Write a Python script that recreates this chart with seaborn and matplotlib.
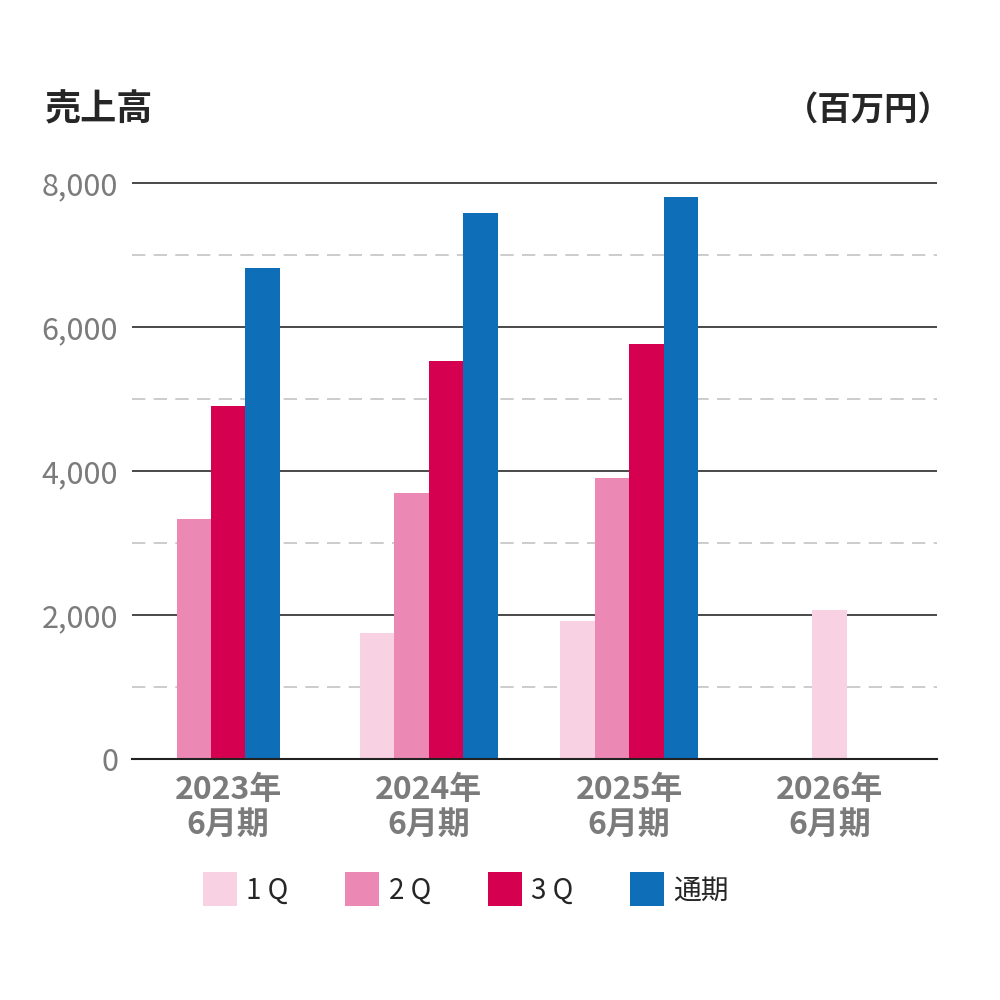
import matplotlib
matplotlib.use("Agg")
import matplotlib.pyplot as plt
from matplotlib.lines import Line2D
from matplotlib.ticker import MultipleLocator, FuncFormatter
import seaborn as sns
import pandas as pd

# データ
years = ["2023年\n6月期", "2024年\n6月期", "2025年\n6月期", "2026年\n6月期"]
quarters = ["1 Q", "2 Q", "3 Q", "通期"]
q1 = [None, 1750, 1910, 2070]
q2 = [3330, 3690, 3900, None]
q3 = [4900, 5530, 5760, None]
full = [6820, 7590, 7810, None]
colors = ["#F8D2E3", "#EC88B4", "#D5004F", "#0F6EB8"]

sns.set_theme(style="white")
plt.rcParams["font.family"] = ["Noto Sans CJK JP", "DejaVu Sans"]

# 各年の棒をカテゴリ中央に寄せる
bar_w = 0.172
rows = []
for i, year in enumerate(years):
    vals = [(q, v) for q, v in zip(quarters, [q1[i], q2[i], q3[i], full[i]]) if v is not None]
    n = len(vals)
    for k, (q, v) in enumerate(vals):
        rows.append({"pos": i + (k - (n - 1) / 2) * bar_w, "quarter": q, "value": v})
df = pd.DataFrame(rows)

fig = plt.figure(figsize=(10, 10), dpi=100)
ax = fig.add_axes([0.132, 0.241, 0.805, 0.5796])

sns.barplot(data=df, x="pos", y="value", hue="quarter", hue_order=quarters,
            palette=colors, native_scale=True, dodge=False, width=1.0,
            saturation=1, linewidth=0, legend=False, ax=ax)

x0, x1 = -0.48, 3.535
ax.set_xlim(x0, x1)
ax.set_ylim(0, 8050)
ax.set_xlabel("")
ax.set_ylabel("")

# y軸
ax.yaxis.set_major_locator(MultipleLocator(2000))
ax.yaxis.set_minor_locator(MultipleLocator(1000))
ax.yaxis.set_major_formatter(FuncFormatter(lambda v, p: f"{int(v):,}"))
ax.grid(False)
ax.yaxis.grid(True, which="major", color="#3a3a3a", lw=1.3)
ax.yaxis.grid(True, which="minor", color="#c4c4c4", lw=1.2, ls=(0, (8, 5)))
ax.set_axisbelow(True)
ax.tick_params(axis="y", which="both", length=0, pad=10, labelsize=22, labelcolor="#7b7b7b")

# x軸
ax.set_xticks(range(len(years)))
ax.set_xticklabels(years)
ax.set_xticks([x0 + 0.004, 0.5, 1.5, 2.5, x1 - 0.004], minor=True)
ax.tick_params(axis="x", which="major", length=0, pad=11, labelsize=23, labelcolor="#7b7b7b")
ax.tick_params(axis="x", which="minor", length=18, width=1.2, color="#b0b0b0", direction="out")
for lab in ax.get_xticklabels():
    lab.set_linespacing(1.12)
    lab.set_fontweight("bold")

for s in ["left", "right", "top"]:
    ax.spines[s].set_visible(False)
ax.spines["bottom"].set_color("#222222")
ax.spines["bottom"].set_linewidth(1.5)

# タイトル
fig.text(0.045, 0.89, "売上高", fontsize=26, fontweight="bold", va="center", ha="left")
fig.text(0.952, 0.89, "（百万円）", fontsize=24, fontweight="bold", va="center", ha="right")

# 凡例
handles = [Line2D([], [], marker="s", ls="", markersize=24, markerfacecolor=c,
                  markeredgewidth=0) for c in colors]
fig.legend(handles, quarters, loc="center", bbox_to_anchor=(0.466, 0.109), ncol=4,
           frameon=False, fontsize=20, handlelength=1.2, handletextpad=0.35,
           columnspacing=2.05)

fig.savefig("out.png", dpi=100)
